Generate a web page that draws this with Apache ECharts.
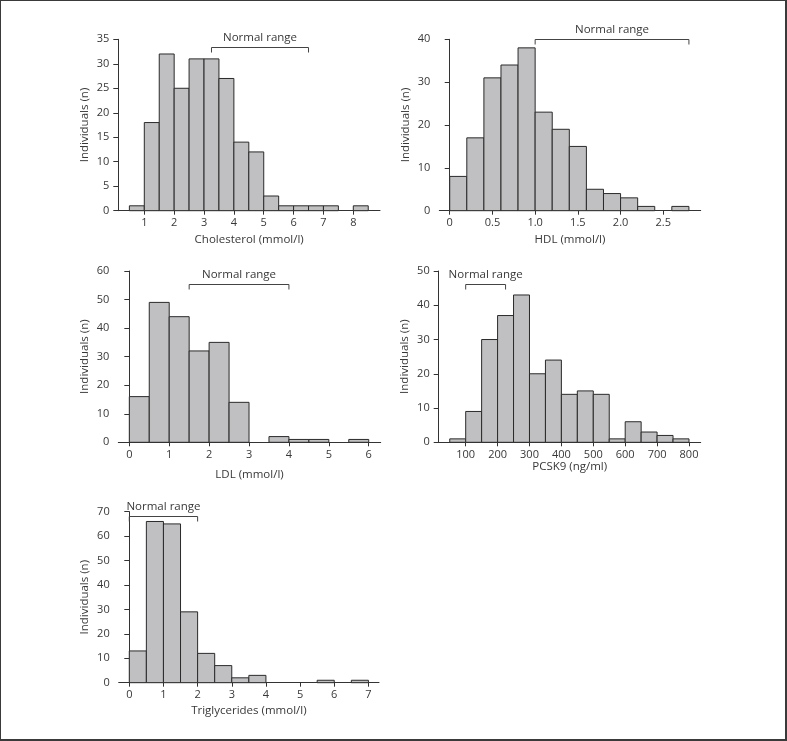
<!DOCTYPE html>
<html>
<head>
<meta charset="utf-8">
<script src="https://cdn.jsdelivr.net/npm/echarts@6/dist/echarts.min.js"></script>
<style>
html,body{margin:0;padding:0;background:#fff;}
#chart{width:787px;height:741px;}
</style>
</head>
<body>
<div id="chart"></div>
<script>
// ---------- DATA ----------
const cholEdges = [0.5,1,1.5,2,2.5,3,3.5,4,4.5,5,5.5,6,6.5,7,7.5,8,8.5];
const cholCounts = [1,18,32,25,31,31,27,14,12,3,1,1,1,1,0,1];
const cholTicks = [1,2,3,4,5,6,7,8];
const cholTickLabels = ['1','2','3','4','5','6','7','8'];
const cholNormal = [3.25, 6.5];

const hdlEdges = [0,0.2,0.4,0.6,0.8,1.0,1.2,1.4,1.6,1.8,2.0,2.2,2.4,2.6,2.8];
const hdlCounts = [8,17,31,34,38,23,19,15,5,4,3,1,0,1];
const hdlTicks = [0,0.5,1.0,1.5,2.0,2.5];
const hdlTickLabels = ['0','0.5','1.0','1.5','2.0','2.5'];
const hdlNormal = [1.0, 2.8];

const ldlEdges = [0,0.5,1,1.5,2,2.5,3,3.5,4,4.5,5,5.5,6];
const ldlCounts = [16,49,44,32,35,14,0,2,1,1,0,1];
const ldlTicks = [0,1,2,3,4,5,6];
const ldlTickLabels = ['0','1','2','3','4','5','6'];
const ldlNormal = [1.5, 4.0];

const pcskEdges = [50,100,150,200,250,300,350,400,450,500,550,600,650,700,750,800];
const pcskCounts = [1,9,30,37,43,20,24,14,15,14,1,6,3,2,1];
const pcskTicks = [100,200,300,400,500,600,700,800];
const pcskTickLabels = ['100','200','300','400','500','600','700','800'];
const pcskNormal = [100, 225];

const trigEdges = [0,0.5,1,1.5,2,2.5,3,3.5,4,4.5,5,5.5,6,6.5,7];
const trigCounts = [13,66,65,29,12,7,2,3,0,0,0,1,0,1];
const trigTicks = [0,1,2,3,4,5,6,7];
const trigTickLabels = ['0','1','2','3','4','5','6','7'];
const trigNormal = [0, 2];

const yTicksChol = [0,5,10,15,20,25,30,35];
const yTicksHdl = [0,10,20,30,40];
const yTicksLdl = [0,10,20,30,40,50,60];
const yTicksPcsk = [0,10,20,30,40,50];
const yTicksTrig = [0,10,20,30,40,50,60,70];

const yName = 'Individuals (n)';
const normalLabel = 'Normal range';

// ---------- STYLE / LAYOUT ----------
const FONT = '"Open Sans", "Noto Sans", sans-serif';
const TXT = '#383838';
const AX = '#333';
const BAR = '#c0c0c3';

const panels = [
  {edges: cholEdges, counts: cholCounts, ticks: cholTicks, labels: cholTickLabels, normal: cholNormal, normalLevel: 33.5,
   yTicks: yTicksChol, xName: 'Cholesterol (mmol/l)', xMin: 0.129, xMax: 8.894, nameGap: 23,
   grid: {left: 118.3, top: 39.3, width: 261.7, height: 171.4}},
  {edges: hdlEdges, counts: hdlCounts, ticks: hdlTicks, labels: hdlTickLabels, normal: hdlNormal, normalLevel: 40,
   yTicks: yTicksHdl, xName: 'HDL (mmol/l)', xMin: -0.122, xMax: 2.938, nameGap: 23,
   grid: {left: 439.3, top: 39.3, width: 261.4, height: 171.4}},
  {edges: ldlEdges, counts: ldlCounts, ticks: ldlTicks, labels: ldlTickLabels, normal: ldlNormal, normalLevel: 55.3,
   yTicks: yTicksLdl, xName: 'LDL (mmol/l)', xMin: -0.276, xMax: 6.30, nameGap: 26,
   grid: {left: 118.3, top: 271, width: 262.4, height: 171.3}},
  {edges: pcskEdges, counts: pcskCounts, ticks: pcskTicks, labels: pcskTickLabels, normal: pcskNormal, normalLevel: 46.1,
   yTicks: yTicksPcsk, xName: 'PCSK9 (ng/ml)', xMin: 15.4, xMax: 836.7, nameGap: 16,
   grid: {left: 438.7, top: 271, width: 262, height: 171.3}},
  {edges: trigEdges, counts: trigCounts, ticks: trigTicks, labels: trigTickLabels, normal: trigNormal, normalLevel: 68.4,
   yTicks: yTicksTrig, xName: 'Triglycerides (mmol/l)', xMin: -0.31, xMax: 7.31, nameGap: 22,
   grid: {left: 118.7, top: 511.7, width: 260.3, height: 171}}
];

const grids = [], xAxes = [], yAxes = [], series = [];

panels.forEach((p, i) => {
  grids.push(Object.assign({containLabel: false}, p.grid));
  const labelMap = {};
  p.ticks.forEach((t, k) => { labelMap[t] = p.labels[k]; });
  xAxes.push({
    type: 'value', gridIndex: i, min: p.xMin, max: p.xMax,
    name: p.xName, nameLocation: 'middle', nameGap: p.nameGap,
    nameTextStyle: {fontFamily: FONT, fontSize: 11.5, color: TXT},
    axisLine: {show: true, onZero: false, lineStyle: {color: AX, width: 1}},
    axisTick: {show: true, length: 4, customValues: p.ticks, lineStyle: {color: AX}},
    axisLabel: {show: true, customValues: p.ticks, margin: 7, fontFamily: FONT, fontSize: 11, color: TXT,
      formatter: v => (labelMap[v] !== undefined ? labelMap[v] : String(v))},
    splitLine: {show: false}
  });
  const yMax = p.yTicks[p.yTicks.length - 1];
  yAxes.push({
    type: 'value', gridIndex: i, min: 0, max: yMax, interval: p.yTicks[1] - p.yTicks[0],
    name: yName, nameLocation: 'middle', nameGap: 28, nameRotate: 90,
    nameTextStyle: {fontFamily: FONT, fontSize: 11.5, color: TXT},
    axisLine: {show: true, lineStyle: {color: AX, width: 1}},
    axisTick: {show: true, length: 5, lineStyle: {color: AX}},
    axisLabel: {margin: 9, fontFamily: FONT, fontSize: 11, color: TXT},
    splitLine: {show: false}
  });
  const barData = p.counts.map((c, k) => [p.edges[k], p.edges[k + 1], c]);
  series.push({
    type: 'custom', xAxisIndex: i, yAxisIndex: i, silent: true,
    data: barData,
    encode: {x: [0, 1], y: 2},
    renderItem: (params, api) => {
      const c = api.value(2);
      if (!c) return null;
      const a = api.coord([api.value(0), 0]);
      const b = api.coord([api.value(1), c]);
      return {
        type: 'rect',
        shape: {x: a[0], y: b[1], width: b[0] - a[0], height: a[1] - b[1]},
        style: {fill: BAR, stroke: '#2a2a2a', lineWidth: 1}
      };
    }
  });
  series.push({
    type: 'custom', xAxisIndex: i, yAxisIndex: i, silent: true, clip: false,
    data: [[p.normal[0], p.normal[1], p.normalLevel]],
    encode: {x: [0, 1], y: 2},
    renderItem: (params, api) => {
      const l = api.coord([api.value(0), api.value(2)]);
      const r = api.coord([api.value(1), api.value(2)]);
      const y = Math.round(l[1]) + 0.5;
      return {
        type: 'group',
        children: [
          {type: 'polyline', shape: {points: [[l[0], y + 5], [l[0], y], [r[0], y], [r[0], y + 5]]},
           style: {stroke: '#444', lineWidth: 1, fill: null}},
          {type: 'text', x: (l[0] + r[0]) / 2, y: y - 10,
           style: {text: normalLabel, fontFamily: FONT, fontSize: 11.5, fill: TXT, align: 'center', verticalAlign: 'middle'}}
        ]
      };
    }
  });
});

const chart = echarts.init(document.getElementById('chart'), null, {renderer: 'canvas'});
chart.setOption({
  backgroundColor: '#fff',
  animation: false,
  grid: grids, xAxis: xAxes, yAxis: yAxes, series: series,
  graphic: [{type: 'rect', shape: {x: 0, y: 0, width: 786, height: 740}, style: {fill: null, stroke: '#3a3a3a', lineWidth: 2}, silent: true}]
});
</script>
</body>
</html>
